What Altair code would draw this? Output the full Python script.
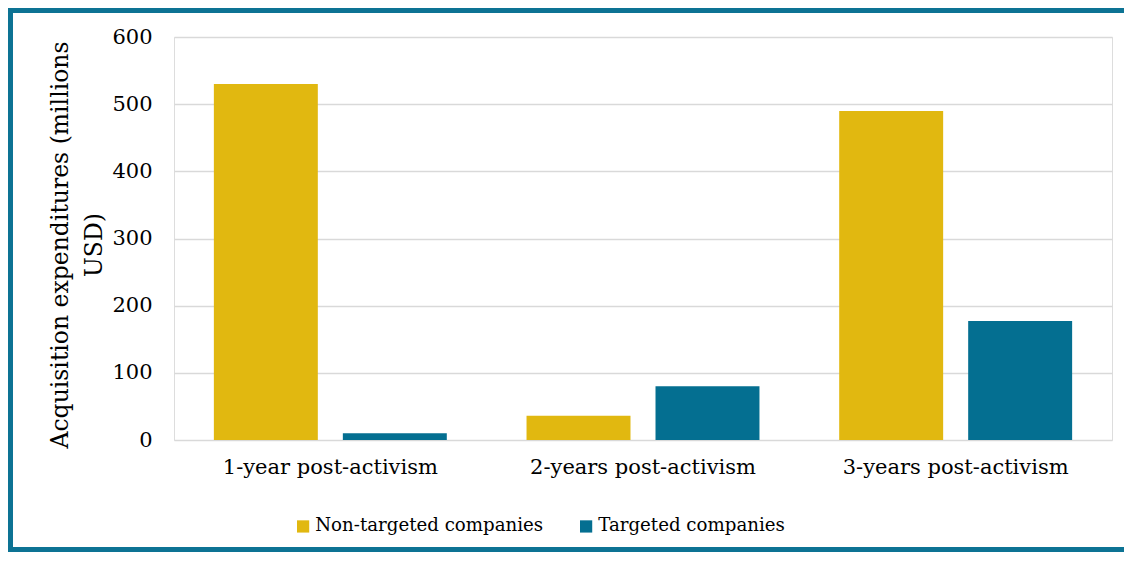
import altair as alt
import pandas as pd

periods = ["1-year post-activism", "2-years post-activism", "3-years post-activism"]
groups = ["Non-targeted companies", "Targeted companies"]
non_targeted = [530, 36, 490]
targeted = [10, 80, 177]
colors = ["#E1B810", "#046F91"]
y_ticks = [0, 100, 200, 300, 400, 500, 600]

rows = []
for p, a, b in zip(periods, non_targeted, targeted):
    rows.append({"period": p, "group": groups[0], "value": a})
    rows.append({"period": p, "group": groups[1], "value": b})
df = pd.DataFrame(rows)

FONT = "DejaVu Serif"
W, H = 938, 403
BORDER = "#0D7394"

bars = alt.Chart(df).mark_bar().encode(
    x=alt.X("period:N", sort=periods,
            scale=alt.Scale(paddingInner=0.255, paddingOuter=0.1275),
            axis=alt.Axis(title=None, labelAngle=0, labelFontSize=21, labelPadding=16,
                          labelLimit=0, domain=False, ticks=False, labelColor="black",
                          labelFont=FONT)),
    xOffset=alt.XOffset("group:N", sort=groups,
                        scale=alt.Scale(paddingInner=0.194, paddingOuter=0)),
    y=alt.Y("value:Q", scale=alt.Scale(domain=[0, 600]),
            axis=alt.Axis(values=y_ticks, title=["Acquisition expenditures (millions", "USD)"],
                          titleFontSize=23.5, titleFont=FONT, titleFontWeight="normal",
                          titleColor="black", titleX=-126, titleY=H / 2 + 6, titleAngle=-90,
                          titleAlign="center", titleBaseline="top", titleLineHeight=34,
                          titleLimit=0,
                          labelFontSize=21, labelFont=FONT, labelColor="black", labelPadding=22,
                          domain=False, ticks=False, gridColor="#D9D9D9", gridWidth=1.5)),
    color=alt.Color("group:N", sort=groups,
                    scale=alt.Scale(domain=groups, range=colors),
                    legend=alt.Legend(title=None, orient="none", legendX=120, legendY=480,
                                      direction="horizontal", symbolType="square",
                                      symbolSize=150, symbolStrokeWidth=0,
                                      labelFontSize=18.2, labelFont=FONT, labelColor="black",
                                      labelOffset=3, columnPadding=33, labelLimit=0)),
)

anchor = pd.DataFrame({"a": [0]})
left_edge = alt.Chart(anchor).mark_rule(color=BORDER, strokeWidth=5).encode(
    x=alt.value(-163.5), y=alt.value(-29), y2=alt.value(515)
)
top_edge = alt.Chart(anchor).mark_rule(color=BORDER, strokeWidth=5).encode(
    x=alt.value(-166), x2=alt.value(W + 12), y=alt.value(-26.5)
)
bottom_edge = alt.Chart(anchor).mark_rule(color=BORDER, strokeWidth=5).encode(
    x=alt.value(-166), x2=alt.value(W + 12), y=alt.value(512.5)
)

chart = alt.layer(bars, left_edge, top_edge, bottom_edge).properties(
    width=W, height=H,
    autosize=alt.AutoSizeParams(type="none"),
    padding={"left": 166, "top": 29, "right": 15, "bottom": 112},
).configure_view(stroke=None).configure(font=FONT)

chart.save("out.html", embed_options={"renderer": "svg", "actions": False})
